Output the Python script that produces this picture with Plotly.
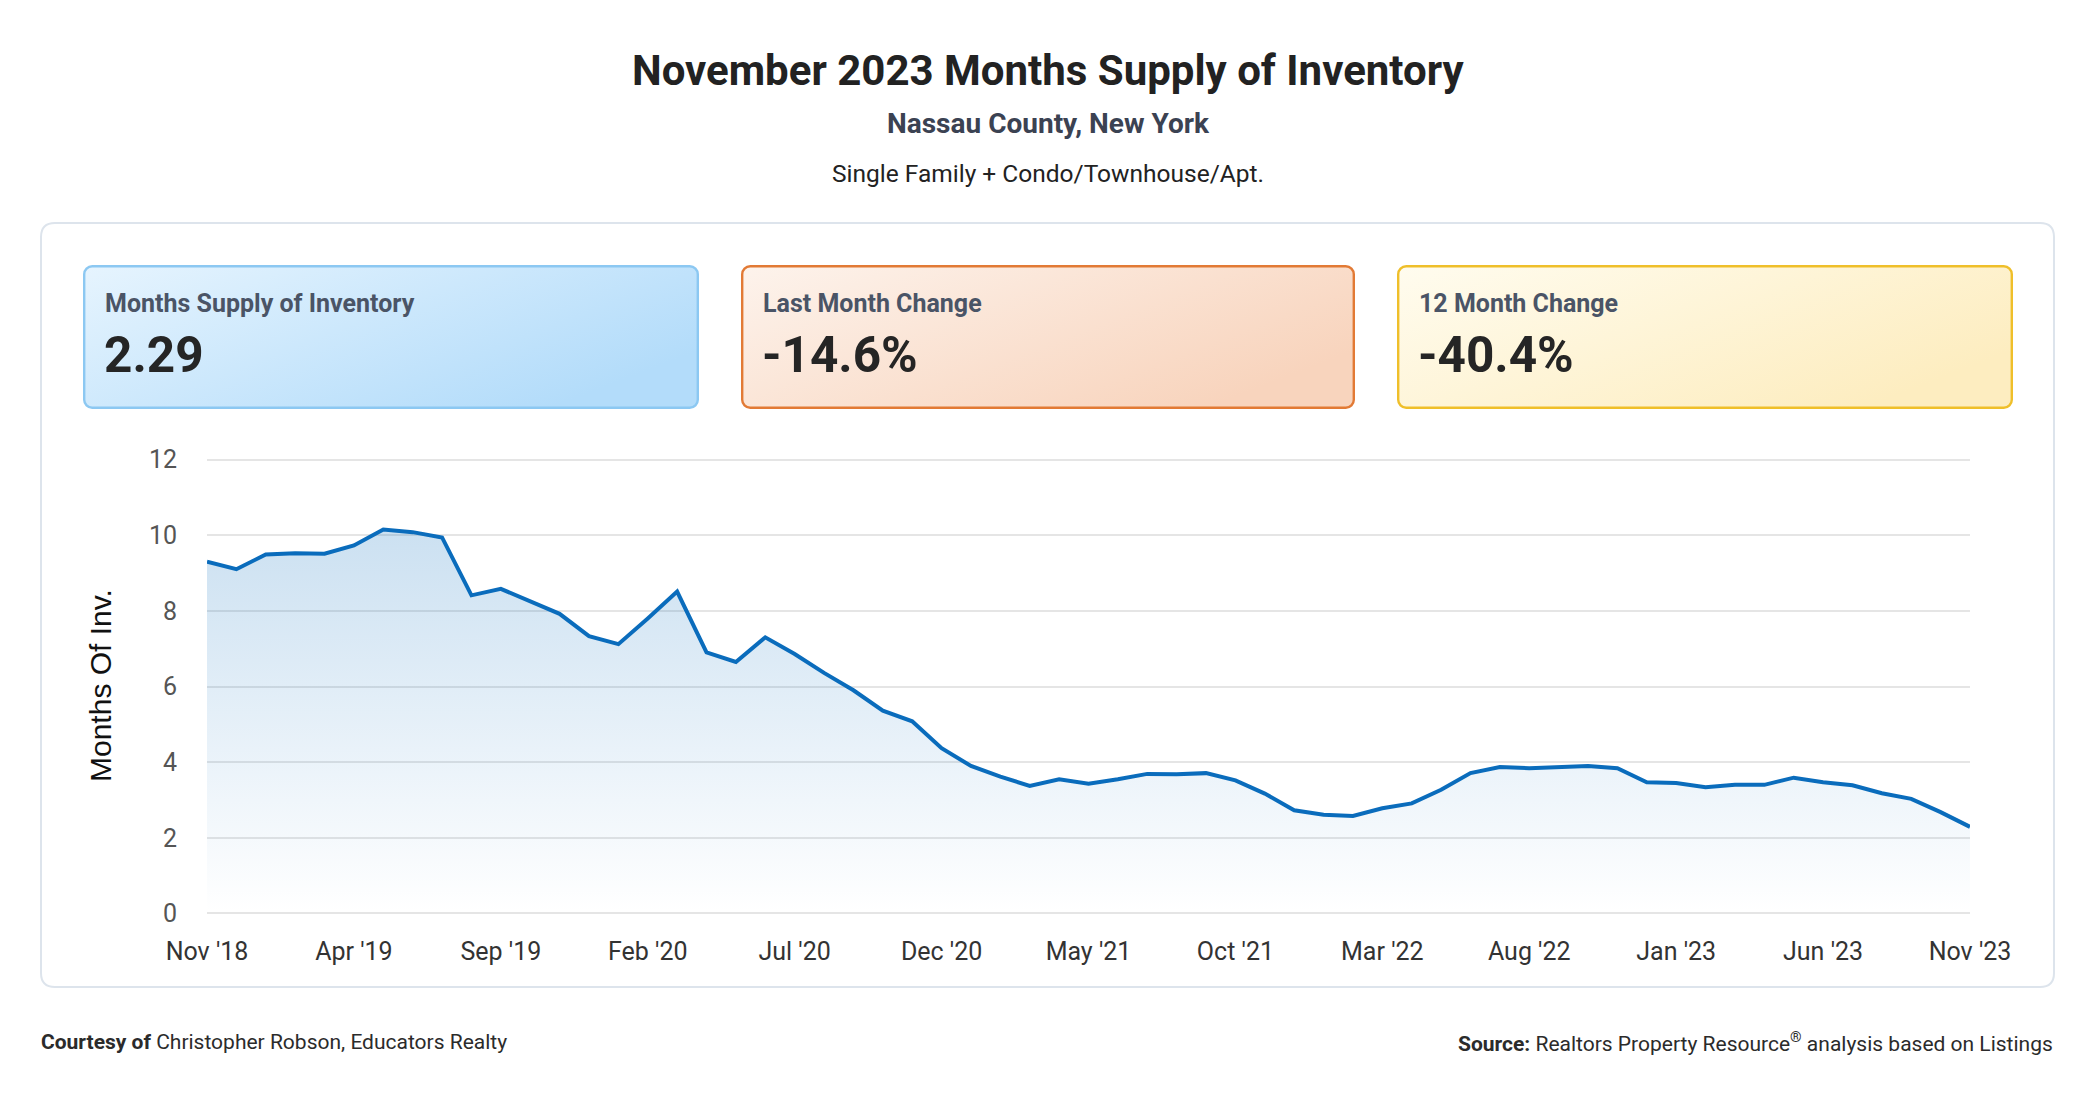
import base64
import pandas as pd
import plotly.graph_objects as go

# ---------------- data ----------------
months = pd.date_range("2018-11-01", "2023-11-01", freq="MS")
supply = [9.30, 9.10, 9.49, 9.52, 9.51, 9.73, 10.15, 10.08, 9.94, 8.41,
          8.58, 8.25, 7.92, 7.33, 7.12, 7.80, 8.51, 6.90, 6.65, 7.30,
          6.86, 6.36, 5.90, 5.36, 5.08, 4.37, 3.90, 3.62, 3.37, 3.55,
          3.43, 3.55, 3.69, 3.68, 3.71, 3.52, 3.17, 2.73, 2.61, 2.58,
          2.78, 2.91, 3.27, 3.71, 3.87, 3.84, 3.88, 3.90, 3.84, 3.47,
          3.45, 3.34, 3.40, 3.40, 3.59, 3.47, 3.39, 3.18, 3.03, 2.68,
          2.29]
tick_idx = list(range(0, 61, 5))
tick_text = ["Nov '18", "Apr '19", "Sep '19", "Feb '20", "Jul '20", "Dec '20",
             "May '21", "Oct '21", "Mar '22", "Aug '22", "Jan '23", "Jun '23", "Nov '23"]
y_ticks = [0, 2, 4, 6, 8, 10, 12]

card_labels = ["Months Supply of Inventory", "Last Month Change", "12 Month Change"]
card_values = ["2.29", "-14.6%", "-40.4%"]

title = "November 2023 Months Supply of Inventory"
subtitle = "Nassau County, New York"
subtitle2 = "Single Family + Condo/Townhouse/Apt."

# ---------------- geometry helpers ----------------
W_FIG, H_FIG = 2096, 1100
L, R, T, B = 207, 126, 458, 185
PW = W_FIG - L - R
PH = H_FIG - T - B


def X(px):
    return (px - L) / PW


def Y(py):
    return (H_FIG - B - py) / PH


def rounded_path(x0, y0, x1, y1, r):
    def p(x, y):
        return f"{X(x)},{Y(y)}"
    return (f"M {p(x0 + r, y0)} L {p(x1 - r, y0)} Q {p(x1, y0)} {p(x1, y0 + r)} "
            f"L {p(x1, y1 - r)} Q {p(x1, y1)} {p(x1 - r, y1)} "
            f"L {p(x0 + r, y1)} Q {p(x0, y1)} {p(x0, y1 - r)} "
            f"L {p(x0, y0 + r)} Q {p(x0, y0)} {p(x0 + r, y0)} Z")


def card_svg(w, h, c1, c2, border):
    svg = (f'<svg xmlns="http://www.w3.org/2000/svg" width="{w}" height="{h}" '
           f'viewBox="0 0 {w} {h}">'
           f'<defs><linearGradient id="g" x1="0" y1="0" x2="1" y2="0.6">'
           f'<stop offset="0" stop-color="{c1}"/><stop offset="1" stop-color="{c2}"/>'
           f'</linearGradient></defs>'
           f'<rect x="1.2" y="1.2" width="{w - 2.4}" height="{h - 2.4}" rx="8" ry="8" '
           f'fill="url(#g)" stroke="{border}" stroke-width="2.4"/></svg>')
    return "data:image/svg+xml;base64," + base64.b64encode(svg.encode()).decode()


fig = go.Figure()

fig.add_trace(go.Scatter(
    x=list(range(len(supply))), y=supply, mode="lines",
    line=dict(color="#0a6cbc", width=4),
    fill="tozeroy",
    fillgradient=dict(type="vertical",
                      colorscale=[[0, "rgba(10,110,190,0.0)"],
                                  [1, "rgba(10,110,190,0.21)"]]),
    hoverinfo="skip", showlegend=False,
))

shapes = []
shapes.append(dict(type="path", path=rounded_path(41, 223, 2054, 987, 14),
                   xref="paper", yref="paper", line=dict(color="#dde4ec", width=2),
                   fillcolor="rgba(0,0,0,0)", layer="below"))

images = []
cards = [
    (83, 699, "#e6f4fe", "#b3dcfa", "#8cc8f2"),
    (741, 1355, "#fdf3ec", "#f8d4bd", "#e27a35"),
    (1397, 2013, "#fffcef", "#fdedc0", "#efbf2a"),
]
annotations = []
for (x0, x1, c1, c2, bc), lab, val in zip(cards, card_labels, card_values):
    y0, y1 = 265, 409
    images.append(dict(source=card_svg(x1 - x0, y1 - y0, c1, c2, bc),
                       xref="paper", yref="paper", x=X(x0), y=Y(y0),
                       sizex=(x1 - x0) / PW, sizey=(y1 - y0) / PH,
                       xanchor="left", yanchor="top", sizing="stretch", layer="above"))
    annotations.append(dict(text=lab, xref="paper", yref="paper", x=X(x0 + 20), y=Y(303),
                            xanchor="left", yanchor="middle", showarrow=False,
                            font=dict(family="Roboto", size=25, color="#4a5466", weight="bold")))
    annotations.append(dict(text=val, xref="paper", yref="paper", x=X(x0 + 19), y=Y(355),
                            xanchor="left", yanchor="middle", showarrow=False,
                            font=dict(family="Roboto", size=49.5, color="#252525", weight="bold")))

annotations += [
    dict(text=title, xref="paper", yref="paper", x=X(1048), y=Y(71), xanchor="center",
         yanchor="middle", showarrow=False,
         font=dict(family="Roboto", size=42, color="#222222", weight="bold")),
    dict(text=subtitle, xref="paper", yref="paper", x=X(1048), y=Y(124), xanchor="center",
         yanchor="middle", showarrow=False,
         font=dict(family="Roboto", size=28, color="#3b4252", weight="bold")),
    dict(text=subtitle2, xref="paper", yref="paper", x=X(1048), y=Y(173), xanchor="center",
         yanchor="middle", showarrow=False,
         font=dict(family="Roboto", size=24.5, color="#222222")),
    dict(text="Months Of Inv.", xref="paper", yref="paper", x=X(100), y=Y(686),
         xanchor="center", yanchor="middle", textangle=-90, showarrow=False,
         font=dict(family="Liberation Sans", size=30, color="#111111")),
    dict(text="<b>Courtesy of</b> Christopher Robson, Educators Realty", xref="paper",
         yref="paper", x=X(39), y=Y(1042), xanchor="left", yanchor="middle", showarrow=False,
         font=dict(family="Roboto", size=21, color="#2b2b2b")),
    dict(text="<b>Source:</b> Realtors Property Resource<sup>®</sup> analysis based on Listings",
         xref="paper", yref="paper", x=X(2055), y=Y(1042), xanchor="right", yanchor="middle",
         showarrow=False, font=dict(family="Roboto", size=21, color="#2b2b2b")),
]

fig.update_layout(
    width=W_FIG, height=H_FIG,
    margin=dict(l=L, r=R, t=T, b=B, pad=0),
    paper_bgcolor="white", plot_bgcolor="rgba(0,0,0,0)",
    shapes=shapes, images=images, annotations=annotations,
    showlegend=False,
    xaxis=dict(range=[0, len(supply) - 1], tickmode="array", tickvals=tick_idx,
               ticktext=tick_text, showgrid=False, zeroline=False, showline=False,
               ticks="outside", ticklen=14, tickcolor="rgba(0,0,0,0)",
               tickfont=dict(family="Roboto", size=25, color="#333333"), fixedrange=True),
    yaxis=dict(range=[-0.04, 12.04], tickmode="array", tickvals=y_ticks, showgrid=True,
               gridcolor="#e5e5e5", gridwidth=2, zeroline=False, showline=False,
               ticks="outside", ticklen=24, tickcolor="rgba(0,0,0,0)",
               tickfont=dict(family="Roboto", size=25, color="#555555"), fixedrange=True),
)

fig.write_html("out.html")
